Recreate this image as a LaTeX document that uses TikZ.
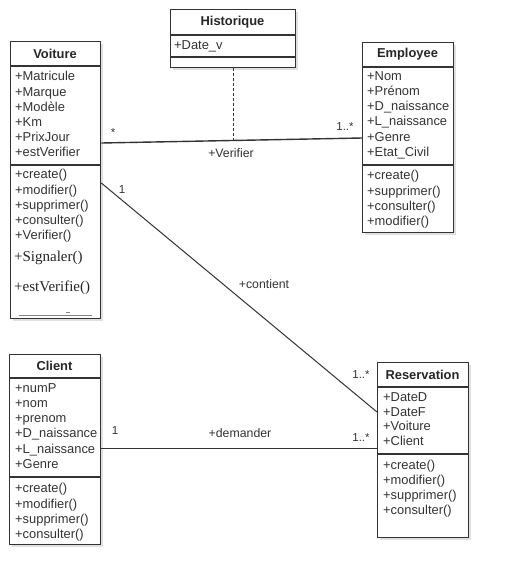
\documentclass[tikz,border=0pt]{standalone}
\usepackage{fontspec}
\setmainfont{Liberation Sans}
\newfontfamily\serifmeth{Liberation Serif}
\usetikzlibrary{shadows}
\definecolor{linec}{HTML}{333333}
\definecolor{txtc}{HTML}{333333}
\tikzset{
  classbox/.style={draw=linec, line width=1.3pt, fill=white, inner sep=0pt,
    drop shadow={shadow xshift=2.5pt, shadow yshift=-2.5pt, opacity=0.12, fill=black}},
  divider/.style={draw=linec, line width=1.3pt},
  ctitle/.style={font=\fontsize{12.9}{15}\selectfont\bfseries, text=black!85, inner sep=0pt},
  members/.style={font=\fontsize{12.9}{15.2}\selectfont, text=txtc, align=left, anchor=north west, inner sep=0pt},
  smeth/.style={font=\fontsize{15}{17}\serifmeth, text=black!85, anchor=west, inner sep=0pt},
  assoc/.style={draw=linec, line width=1pt},
  lbl/.style={font=\fontsize{12.3}{14}\selectfont, text=txtc, inner sep=0pt},
  mult/.style={font=\fontsize{11.5}{13}\selectfont, text=txtc, inner sep=0pt}
}
\begin{document}
\begin{tikzpicture}[x=1pt,y=-1pt]
\useasboundingbox (0,0) rectangle (507,584);
\fill[white] (0,0) rectangle (507,584);

% ---------- Voiture ----------
\node[classbox, minimum width=90pt, minimum height=277pt, anchor=north west] (voiture) at (10,41) {};
\node[ctitle] (voitureT) at (55,53.5) {Voiture};
\draw[divider] (voiture.west |- 0,66) -- (voiture.east |- 0,66);
\node[members] (voitureA) at (15,71.3) {+Matricule\\+Marque\\+Modèle\\+Km\\+PrixJour\\+estVerifier};
\draw[divider] (voiture.west |- 0,165) -- (voiture.east |- 0,165);
\node[members] (voitureM) at (15,169.3) {+create()\\+modifier()\\+supprimer()\\+consulter()\\+Verifier()};
\node[smeth] (voitureS) at (14,258) {+Signaler()};
\node[smeth] (voitureE) at (14,288) {+estVerifie()};
\draw[line width=1.2pt, linec!60] (19,315.5) -- (92,315.5);
\draw[line width=0.8pt, linec!60] (66,312.5) -- (70,312.5);

% ---------- Historique ----------
\node[classbox, minimum width=125pt, minimum height=58pt, anchor=north west] (historique) at (170,9) {};
\node[ctitle] (historiqueT) at (232.5,22) {Historique};
\draw[divider] (historique.west |- 0,35) -- (historique.east |- 0,35);
\node[members] (historiqueA) at (174,40.3) {+Date\_v};
\draw[divider] (historique.west |- 0,57) -- (historique.east |- 0,57);

% ---------- Employee ----------
\node[classbox, minimum width=91pt, minimum height=190pt, anchor=north west] (employee) at (362,42) {};
\node[ctitle] (employeeT) at (407.5,54.5) {Employee};
\draw[divider] (employee.west |- 0,67) -- (employee.east |- 0,67);
\node[members] (employeeA) at (367,71.3) {+Nom\\+Prénom\\+D\_naissance\\+L\_naissance\\+Genre\\+Etat\_Civil};
\draw[divider] (employee.west |- 0,165) -- (employee.east |- 0,165);
\node[members] (employeeM) at (367,170.3) {+create()\\+supprimer()\\+consulter()\\+modifier()};

% ---------- Client ----------
\node[classbox, minimum width=91pt, minimum height=190pt, anchor=north west] (client) at (9,354) {};
\node[ctitle] (clientT) at (54.5,366) {Client};
\draw[divider] (client.west |- 0,378) -- (client.east |- 0,378);
\node[members] (clientA) at (15,383.3) {+numP\\+nom\\+prenom\\+D\_naissance\\+L\_naissance\\+Genre};
\draw[divider] (client.west |- 0,477) -- (client.east |- 0,477);
\node[members] (clientM) at (15,483.3) {+create()\\+modifier()\\+supprimer()\\+consulter()};

% ---------- Reservation ----------
\node[classbox, minimum width=91pt, minimum height=175pt, anchor=north west] (reservation) at (377,362) {};
\node[ctitle] (reservationT) at (422.5,374.5) {Reservation};
\draw[divider] (reservation.west |- 0,387) -- (reservation.east |- 0,387);
\node[members, font=\fontsize{12.9}{14.8}\selectfont] (reservationA) at (383,392.3) {+DateD\\+DateF\\+Voiture\\+Client};
\draw[divider] (reservation.west |- 0,454) -- (reservation.east |- 0,454);
\node[members, font=\fontsize{12.9}{15}\selectfont] (reservationM) at (383,460.3) {+create()\\+modifier()\\+supprimer()\\+consulter()};

% ---------- Associations ----------
\draw[assoc, line width=1.4pt] (voiture.east |- 0,143) -- coordinate[pos=0.5] (vmid) (employee.west |- 0,138);
\coordinate (hv) at (historique.south |- vmid);
\draw[assoc, dashed, dash pattern=on 3pt off 2pt] (historique.south) -- (hv);
\node[mult] (m1) at (113,133) {*};
\node[mult] (m2) at (345,127) {1..*};
\node[lbl] (verifierL) at (231,153) {+Verifier};

\draw[assoc] (voiture.east |- 0,183) -- (reservation.west |- 0,412);
\node[mult] (m3) at (122,190) {1};
\node[lbl] (contientL) at (264,284) {+contient};
\node[mult] (m4) at (361,375) {1..*};

\draw[assoc, line width=1.4pt] (client.east |- 0,448.5) -- (reservation.west |- 0,448.5);
\node[mult] (m5) at (115,431) {1};
\node[lbl] (demanderL) at (240,433) {+demander};
\node[mult] (m6) at (361,438) {1..*};
\end{tikzpicture}
\end{document}
